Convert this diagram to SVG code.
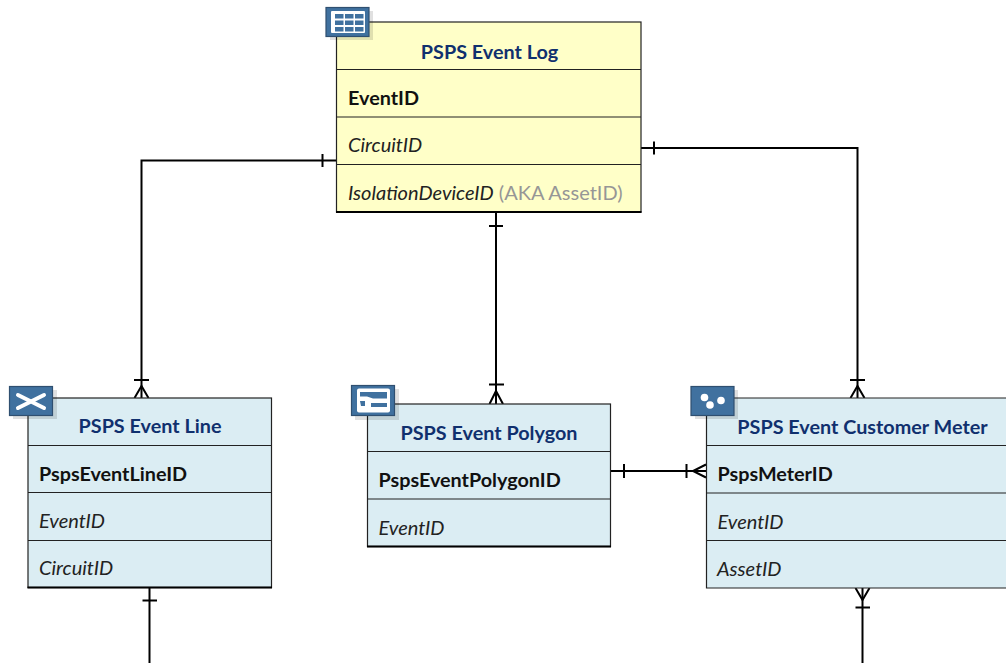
<svg xmlns="http://www.w3.org/2000/svg" width="1006" height="663" viewBox="0 0 1006 663">
<style>
text{font-family:"Lato","Open Sans","Liberation Sans",sans-serif;font-size:20px}
.t{font-weight:700;fill:#10306e;text-anchor:middle;font-size:19.800px}
.k{font-weight:700;fill:#111;font-size:19.800px}
.f{font-style:italic;fill:#222}
.g{fill:#969696}
.y{fill:#ffffc8;stroke:#222;stroke-width:1.2}
.b{fill:#dbedf3;stroke:#222;stroke-width:1.2}
.s{stroke:#222;stroke-width:1.2;fill:none}
.base{stroke:#000;stroke-width:2;fill:none}
.ic{fill:#40719f;stroke:#2f4f70;stroke-width:1.2}
.sh{fill:#000;opacity:.12}
.w{fill:#fff}
#connectors path{stroke:#000;stroke-width:2;fill:none}
</style>
<g id="connectors">
<path d="M336 160.500H141.500V398"/>
<path d="M322.500 154V167"/>
<path d="M134 380H149M134.500 398L141.500 386L148.500 398"/>
<path d="M641 148H857.500V398"/>
<path d="M654 141.500V154.500"/>
<path d="M850 380H865M850.500 398L857.500 386L864.500 398"/>
<path d="M496 212V404"/>
<path d="M489 226H503"/>
<path d="M489 384.500H504M489.500 404L496 391L503 404"/>
<path d="M610 471H706"/>
<path d="M624 464V478"/>
<path d="M686.500 464V478M706 464.500L693 471L706 477.500"/>
<path d="M149.500 588V663"/>
<path d="M142.500 600.500H157"/>
<path d="M862.500 588V663"/>
<path d="M855.500 607.500H870M855.500 588L862.500 600L869.500 588"/>
</g>
<g id="psps-event-log">
<rect class="y" x="336.500" y="22" width="304.500" height="190"/>
<path class="s" d="M336.500 69.500H641M336.500 117H641M336.500 164.500H641"/>
<path class="base" d="M336 212H641.500"/>
<text class="t" x="489.500" y="58.500">PSPS Event Log</text>
<text class="k" x="348" y="105">EventID</text>
<text class="f" x="348" y="152">CircuitID</text>
<text x="348" y="200"><tspan class="f">IsolationDeviceID</tspan><tspan class="g"> (AKA AssetID)</tspan></text>
<rect class="sh" x="330" y="11" width="43" height="29"/>
<rect class="ic" x="326" y="7.500" width="43" height="29"/>
<rect class="w" x="331" y="11" width="34" height="22" rx="1"/>
<path fill="#40719f" d="M335 14h8.500v4.500h-8.500zM345 14h8.500v4.500h-8.500zM355 14h8.500v4.500h-8.500zM335 20.500h8.500v4.500h-8.500zM345 20.500h8.500v4.500h-8.500zM355 20.500h8.500v4.500h-8.500zM335 27h8.500v4.500h-8.500zM345 27h8.500v4.500h-8.500zM355 27h8.500v4.500h-8.500z"/>
</g>
<g id="psps-event-line">
<rect class="b" x="28" y="398" width="243.500" height="189.500"/>
<path class="s" d="M28 445.500H271.500M28 492.500H271.500M28 540.500H271.500"/>
<path class="base" d="M27.500 587.500H272"/>
<text class="t" x="150" y="433">PSPS Event Line</text>
<text class="k" x="39" y="481">PspsEventLineID</text>
<text class="f" x="39" y="528">EventID</text>
<text class="f" x="39" y="575">CircuitID</text>
<rect class="sh" x="13" y="390" width="44" height="29"/>
<rect class="ic" x="9.500" y="386.500" width="43" height="29"/>
<path d="M18 395L44 408M18 408L44 395" stroke="#fff" stroke-width="4" stroke-linecap="round" fill="none"/>
</g>
<g id="psps-event-polygon">
<rect class="b" x="367.500" y="404" width="243" height="142.500"/>
<path class="s" d="M367.500 451.500H610.500M367.500 499H610.500"/>
<path class="base" d="M367 546.500H611"/>
<text class="t" x="489" y="440">PSPS Event Polygon</text>
<text class="k" x="378.500" y="487">PspsEventPolygonID</text>
<text class="f" x="378.500" y="535">EventID</text>
<rect class="sh" x="355" y="389" width="44" height="31"/>
<rect class="ic" x="351.500" y="385.500" width="43" height="30"/>
<rect x="357" y="388.500" width="33" height="24" rx="2" fill="#fff"/>
<path fill="#40719f" d="M360 392H387V398.500H373L367 396.500H360Z"/>
<path fill="#40719f" d="M360 401H365V406H361ZM371 403L387 403V407H371Z"/>
</g>
<g id="psps-event-customer-meter">
<path class="b" d="M1006 398H706.500V588H1006"/>
<path class="s" d="M706.500 445.500H1006M706.500 493H1006M706.500 540.500H1006"/>
<text class="t" x="862.500" y="434">PSPS Event Customer Meter</text>
<text class="k" x="717.500" y="481">PspsMeterID</text>
<text class="f" x="717.500" y="529">EventID</text>
<text class="f" x="717" y="576">AssetID</text>
<rect class="sh" x="695" y="390" width="43" height="29"/>
<rect class="ic" x="691" y="386.500" width="43" height="29"/>
<circle class="w" cx="704.500" cy="397.500" r="3.800"/>
<circle class="w" cx="710" cy="405" r="3.800"/>
<circle class="w" cx="721" cy="400.500" r="3.800"/>
</g>
</svg>
